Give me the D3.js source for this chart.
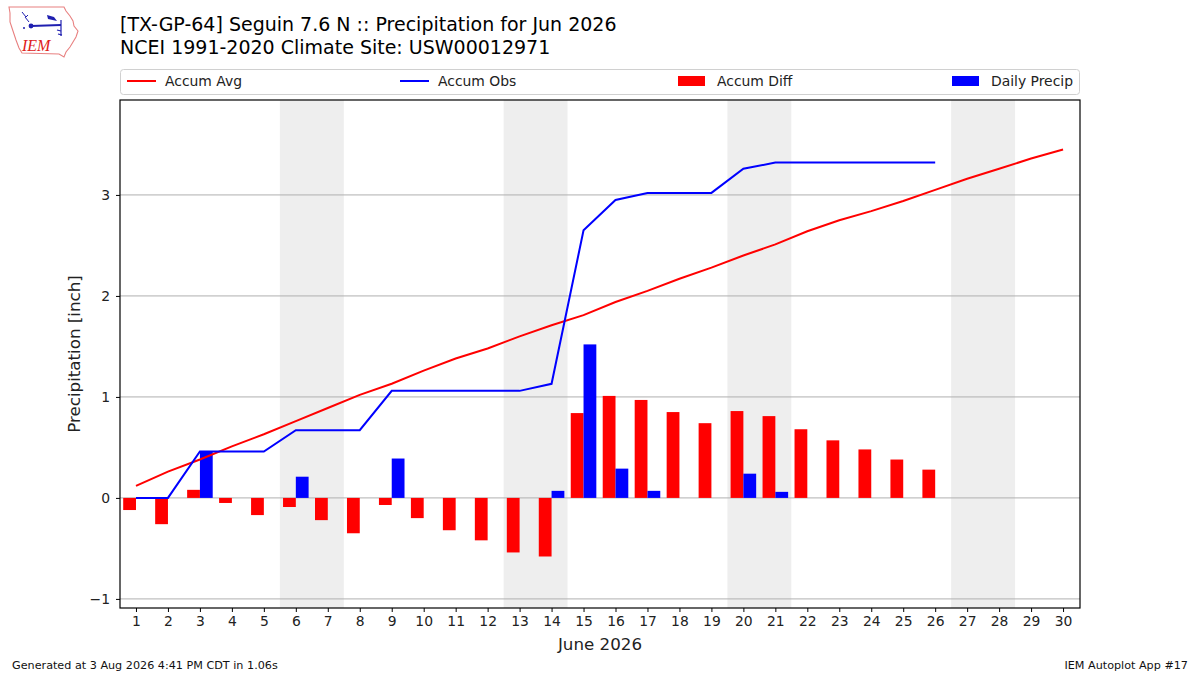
<!DOCTYPE html>
<html><head><meta charset="utf-8">
<script src="https://cdn.jsdelivr.net/npm/d3@7"></script>
<style>body{margin:0;background:#fff}svg{display:block;font-family:"DejaVu Sans",sans-serif}</style>
</head><body><svg id="c" width="1200" height="675"></svg>
<script>
const days = d3.range(1, 31);
const obsDays = d3.range(1, 27);
const accumAvg = [0.12,0.26,0.38,0.51,0.63,0.76,0.89,1.02,1.13,1.26,1.38,1.48,1.60,1.71,1.81,1.94,2.05,2.17,2.28,2.40,2.51,2.64,2.75,2.84,2.94,3.05,3.16,3.26,3.36,3.45];
const accumObs = [0,0,0.46,0.46,0.46,0.67,0.67,0.67,1.06,1.06,1.06,1.06,1.06,1.13,2.65,2.95,3.02,3.02,3.02,3.26,3.32,3.32,3.32,3.32,3.32,3.32];
const accumDiff = [-0.12,-0.26,0.08,-0.05,-0.17,-0.09,-0.22,-0.35,-0.07,-0.20,-0.32,-0.42,-0.54,-0.58,0.84,1.01,0.97,0.85,0.74,0.86,0.81,0.68,0.57,0.48,0.38,0.28];
const dailyPrecip = [0,0,0.46,0,0,0.21,0,0,0.39,0,0,0,0,0.07,1.52,0.29,0.07,0,0,0.24,0.06,0,0,0,0,0];
const weekendStarts = [6, 13, 20, 27];
const yTicks = [-1, 0, 1, 2, 3];
const titleLines = ["[TX-GP-64] Seguin 7.6 N :: Precipitation for Jun 2026", "NCEI 1991-2020 Climate Site: USW00012971"];
const legendItems = [
  {label:"Accum Avg", type:"line", color:"#ff0000"},
  {label:"Accum Obs", type:"line", color:"#0000ff"},
  {label:"Accum Diff", type:"patch", color:"#ff0000"},
  {label:"Daily Precip", type:"patch", color:"#0000ff"}
];

const svg = d3.select("#c");
const L = 120, R = 1080, T = 100, B = 608;
const x = d3.scaleLinear().domain([0.5, 30.53]).range([L, R]);
const y = d3.scaleLinear().domain([-1.09, 3.94]).range([B, T]);

// weekend shading
svg.append("g").selectAll("rect").data(weekendStarts).join("rect")
  .attr("x", d => x(d - 0.5)).attr("width", d => x(d + 1.5) - x(d - 0.5))
  .attr("y", T).attr("height", B - T).attr("fill", "#eeeeee");

// grid
svg.append("g").selectAll("line").data(yTicks).join("line")
  .attr("x1", L).attr("x2", R).attr("y1", d => y(d)).attr("y2", d => y(d))
  .attr("stroke", "#b0b0b0").attr("stroke-width", 1);

// bars
const bw = 0.4;
svg.append("g").selectAll("rect").data(obsDays).join("rect")
  .attr("x", d => x(d - bw)).attr("width", d => x(d) - x(d - bw))
  .attr("y", (d, i) => y(Math.max(0, accumDiff[i])))
  .attr("height", (d, i) => Math.abs(y(accumDiff[i]) - y(0)))
  .attr("fill", "#ff0000");
svg.append("g").selectAll("rect").data(obsDays).join("rect")
  .attr("x", d => x(d)).attr("width", d => x(d + bw) - x(d))
  .attr("y", (d, i) => y(Math.max(0, dailyPrecip[i])))
  .attr("height", (d, i) => Math.abs(y(dailyPrecip[i]) - y(0)))
  .attr("fill", "#0000ff");

// lines
const line = d3.line().x(d => x(d[0])).y(d => y(d[1]));
svg.append("path").datum(days.map((d, i) => [d, accumAvg[i]])).attr("d", line)
  .attr("fill", "none").attr("stroke", "#ff0000").attr("stroke-width", 2);
svg.append("path").datum(obsDays.map((d, i) => [d, accumObs[i]])).attr("d", line)
  .attr("fill", "none").attr("stroke", "#0000ff").attr("stroke-width", 2);

// axes
const xAxis = svg.append("g").attr("transform", `translate(0,${B})`)
  .call(d3.axisBottom(x).tickValues(days).tickFormat(d3.format("d")).tickSizeOuter(0).tickSize(4).tickPadding(4));
const yAxis = svg.append("g").attr("transform", `translate(${L},0)`)
  .call(d3.axisLeft(y).tickValues(yTicks).tickFormat(d => d < 0 ? "\u2212" + Math.abs(d) : d).tickSizeOuter(0).tickSize(4).tickPadding(6));
[xAxis, yAxis].forEach(a => {
  a.select(".domain").remove();
  a.selectAll("text").attr("font-size", 13.9).attr("font-family", "DejaVu Sans").attr("fill", "#222");
  a.selectAll("line").attr("stroke", "#000");
});
svg.append("rect").attr("x", L).attr("y", T).attr("width", R - L).attr("height", B - T)
  .attr("fill", "none").attr("stroke", "#000").attr("stroke-width", 1.2);

// axis labels
svg.append("text").attr("x", (L + R) / 2).attr("y", 650).attr("text-anchor", "middle")
  .attr("font-size", 16.7).attr("fill", "#222").text("June 2026");
svg.append("text").attr("transform", `translate(80,${(T + B) / 2}) rotate(-90)`).attr("text-anchor", "middle")
  .attr("font-size", 16.7).attr("fill", "#222").text("Precipitation [inch]");

// title
svg.append("g").selectAll("text").data(titleLines).join("text")
  .attr("x", 120).attr("y", (d, i) => 31 + i * 23).attr("font-size", 19).attr("fill", "#000").text(d => d);

// legend
svg.append("rect").attr("x", 120.5).attr("y", 69.5).attr("width", 959).attr("height", 25).attr("rx", 3)
  .attr("fill", "#fff").attr("stroke", "#d0d0d0");
const legX = [127, 400, 678, 952];
const lg = svg.append("g").selectAll("g").data(legendItems).join("g")
  .attr("transform", (d, i) => `translate(${legX[i]},81)`);
lg.each(function(d) {
  const g = d3.select(this);
  if (d.type === "line") g.append("line").attr("x1", 0).attr("x2", 29).attr("stroke", d.color).attr("stroke-width", 2);
  else g.append("rect").attr("x", 0).attr("y", -5).attr("width", 27).attr("height", 10).attr("fill", d.color);
  g.append("text").attr("x", d.type === "line" ? 38 : 39).attr("y", 5).attr("font-size", 13.9).attr("fill", "#222").text(d.label);
});

// footer
svg.append("text").attr("x", 12).attr("y", 669).attr("font-size", 11.2).attr("fill", "#111")
  .text("Generated at 3 Aug 2026 4:41 PM CDT in 1.06s");
svg.append("text").attr("x", 1188).attr("y", 669).attr("text-anchor", "end").attr("font-size", 11.2).attr("fill", "#111")
  .text("IEM Autoplot App #17");

// logo (approximate)
const logo = svg.append("g");
logo.append("path").attr("d", "M9,7 L64,7 L66,11 L70,16 L73,21 L74,26 L78,31 L76,37 L73,42 L70,47 L66,52 L64,57 L59,54 L22,53 L19,48 L16,40 L13,31 L10,22 L10,13 Z")
  .attr("fill", "#fff").attr("stroke", "#e88080").attr("stroke-width", 1.1);
logo.append("line").attr("x1", 31).attr("y1", 26).attr("x2", 61).attr("y2", 25).attr("stroke", "#1f1fb0").attr("stroke-width", 1.8);
logo.append("path").attr("d", "M47,15 L54,17 L57,21 L48,19 Z").attr("fill", "#1f1fb0");
logo.append("line").attr("x1", 61).attr("y1", 20).attr("x2", 61).attr("y2", 36).attr("stroke", "#1f1fb0").attr("stroke-width", 1.2);
logo.append("path").attr("d", "M57,30 L61,31 M58,34 L62,35").attr("stroke", "#1f1fb0").attr("stroke-width", 1.2);
logo.append("circle").attr("cx", 31).attr("cy", 26).attr("r", 2.4).attr("fill", "#1f1fb0");
logo.append("path").attr("d", "M22,12 L26,17 L28,15 M25,17 L29,22").attr("fill", "none").attr("stroke", "#1f1fb0").attr("stroke-width", 1);
logo.append("circle").attr("cx", 24).attr("cy", 28).attr("r", 1).attr("fill", "#1f1fb0");
logo.append("text").attr("x", 22).attr("y", 51).attr("font-family", "Liberation Serif").attr("font-style", "italic")
  .attr("font-size", 16).attr("fill", "#e02020").text("IEM");
</script></body></html>
